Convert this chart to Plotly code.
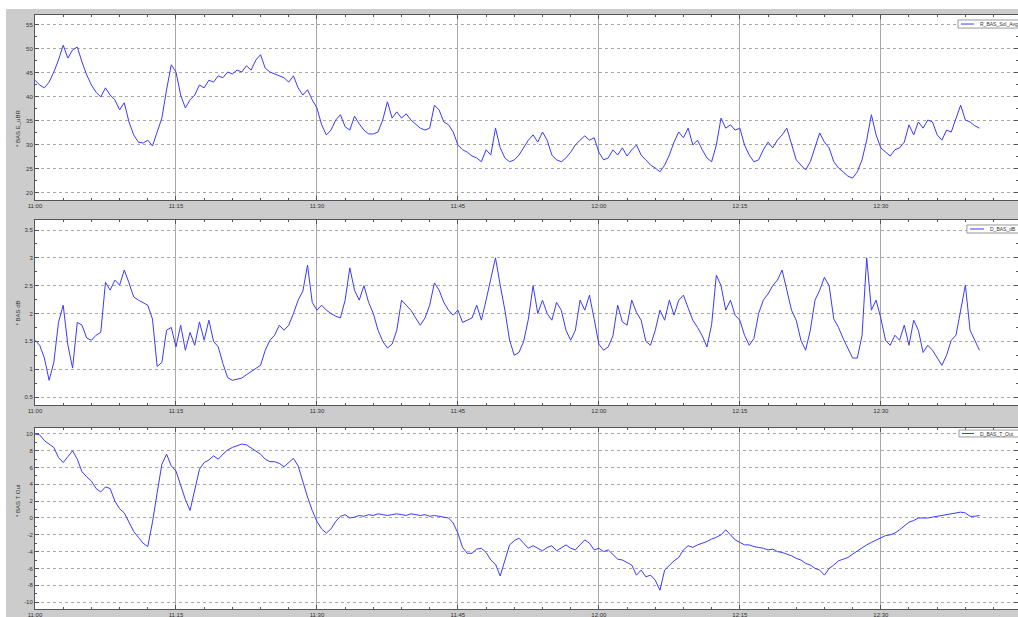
import pandas as pd
import plotly.graph_objects as go
from plotly.subplots import make_subplots

# Sampling: one reading every 30 s, starting at 11:00
START = "2021-05-12 11:00:00"
N_SAMPLES = 202

sol_avg = [
    43.5, 42.5, 41.9, 43.1, 45.2, 47.7, 50.8, 48.1, 49.8, 50.4,
    47.3, 44.6, 42.5, 41.0, 40.0, 41.9, 40.4, 39.4, 37.3, 38.8,
    34.8, 32.1, 30.6, 30.4, 31.0, 29.8, 32.7, 35.6, 41.5, 46.7,
    45.2, 40.4, 37.7, 39.4, 40.4, 42.5, 41.9, 43.5, 43.1, 44.4,
    44.0, 45.2, 44.8, 45.6, 45.2, 46.5, 45.6, 47.7, 48.8, 46.0,
    45.2, 44.8, 44.4, 44.0, 43.1, 44.4, 41.9, 40.4, 41.5, 39.4,
    37.7, 34.2, 32.1, 33.1, 35.2, 36.3, 33.8, 33.1, 36.0, 34.4,
    33.1, 32.3, 32.3, 32.7, 35.2, 39.0, 35.6, 36.9, 35.6, 36.5,
    35.2, 34.4, 33.5, 33.1, 33.5, 38.3, 37.3, 34.8, 34.2, 32.7,
    30.0, 29.0, 28.5, 27.7, 27.3, 26.5, 29.0, 27.9, 33.5, 29.4,
    27.3, 26.5, 26.9, 27.9, 29.4, 31.0, 32.1, 30.6, 32.7, 31.0,
    27.9, 26.9, 26.5, 27.3, 28.5, 30.0, 31.0, 31.9, 31.0, 31.5,
    28.5, 26.9, 27.3, 29.0, 27.9, 29.4, 27.7, 29.0, 30.0, 27.9,
    26.9, 25.8, 25.2, 24.4, 25.8, 27.9, 30.6, 32.7, 31.5, 33.5,
    30.0, 31.0, 29.0, 27.3, 26.5, 30.0, 35.6, 33.5, 34.2, 33.1,
    33.5, 30.0, 27.9, 26.5, 26.9, 29.0, 30.6, 29.4, 31.0, 32.1,
    33.5, 30.0, 26.9, 25.8, 24.8, 26.5, 29.4, 32.5, 30.6, 29.4,
    26.5, 25.2, 24.4, 23.5, 23.1, 24.4, 26.9, 31.0, 36.3, 32.1,
    29.4, 28.5, 27.7, 29.0, 29.4, 30.6, 34.2, 32.1, 34.8, 33.5,
    35.2, 34.8, 32.1, 31.0, 33.1, 32.7, 35.6, 38.3, 35.2, 34.8,
    34.0, 33.5,
]

d_db = [
    1.52, 1.43, 1.20, 0.80, 1.12, 1.84, 2.15, 1.43, 1.02, 1.84,
    1.79, 1.56, 1.52, 1.61, 1.66, 2.56, 2.42, 2.60, 2.51, 2.78,
    2.55, 2.30, 2.24, 2.20, 2.15, 1.90, 1.05, 1.12, 1.70, 1.75,
    1.40, 1.79, 1.34, 1.66, 1.43, 1.85, 1.52, 1.88, 1.50, 1.40,
    1.10, 0.85, 0.80, 0.82, 0.84, 0.90, 0.96, 1.02, 1.07, 1.34,
    1.52, 1.61, 1.79, 1.70, 1.79, 2.00, 2.24, 2.40, 2.87, 2.20,
    2.06, 2.15, 2.06, 2.00, 1.95, 1.92, 2.24, 2.82, 2.42, 2.24,
    2.50, 2.20, 2.00, 1.70, 1.50, 1.38, 1.45, 1.70, 2.24, 2.15,
    2.06, 1.92, 1.79, 1.92, 2.15, 2.55, 2.42, 2.20, 2.06, 1.97,
    2.06, 1.84, 1.88, 1.92, 2.15, 1.88, 2.24, 2.60, 3.00, 2.51,
    2.06, 1.52, 1.25, 1.30, 1.50, 1.90, 2.50, 2.00, 2.24, 2.00,
    1.88, 2.20, 2.06, 1.70, 1.52, 1.70, 2.24, 2.06, 2.33, 1.90,
    1.45, 1.34, 1.40, 1.60, 2.15, 1.85, 1.79, 2.24, 2.02, 1.88,
    1.50, 1.43, 1.70, 2.06, 1.88, 2.24, 1.97, 2.24, 2.33, 2.10,
    1.88, 1.75, 1.60, 1.40, 1.80, 2.69, 2.50, 2.06, 2.24, 1.97,
    1.88, 1.61, 1.43, 1.55, 2.00, 2.24, 2.35, 2.50, 2.60, 2.78,
    2.40, 2.06, 1.88, 1.52, 1.34, 1.70, 2.24, 2.42, 2.65, 2.50,
    1.90, 1.75, 1.55, 1.38, 1.20, 1.20, 1.60, 3.00, 2.06, 2.24,
    1.92, 1.52, 1.43, 1.61, 1.52, 1.79, 1.43, 1.88, 1.70, 1.30,
    1.43, 1.34, 1.20, 1.07, 1.25, 1.52, 1.61, 2.06, 2.51, 1.70,
    1.52, 1.34,
]

t_out = [
    10.0, 9.9, 9.2, 8.8, 8.4, 7.2, 6.6, 7.3, 8.0, 7.0,
    5.5, 4.9, 4.4, 3.5, 3.1, 3.7, 3.5, 2.0, 1.1, 0.6,
    -0.6, -1.6, -2.3, -3.0, -3.4, -0.5, 3.0, 6.4, 7.6, 6.2,
    5.6, 4.0, 2.2, 0.9, 3.5, 5.8, 6.6, 6.9, 7.4, 7.0,
    7.6, 8.1, 8.4, 8.6, 8.8, 8.7, 8.3, 7.9, 7.6, 7.0,
    6.7, 6.7, 6.5, 6.1, 6.6, 7.1, 6.2, 4.2, 2.5, 0.9,
    -0.4, -1.3, -1.8, -1.3, -0.4, 0.2, 0.4, 0.0, 0.1, 0.3,
    0.2, 0.4, 0.3, 0.5, 0.4, 0.3, 0.4, 0.5, 0.4, 0.3,
    0.5, 0.4, 0.3, 0.4, 0.2, 0.3, 0.2, 0.1, 0.0, -0.6,
    -1.8, -3.5, -4.2, -4.2, -3.7, -3.6, -4.1, -5.0, -5.5, -6.9,
    -5.0, -3.2, -2.7, -2.4, -3.0, -3.6, -3.3, -3.6, -3.9, -3.5,
    -3.3, -3.9, -3.6, -3.2, -3.6, -3.8, -3.2, -2.6, -3.0, -3.8,
    -3.6, -4.0, -3.8, -4.4, -4.9, -5.0, -5.3, -5.6, -6.8, -6.2,
    -7.0, -6.8, -7.4, -8.6, -6.2, -5.6, -5.1, -4.7, -3.8, -3.3,
    -3.5, -3.2, -3.0, -2.8, -2.5, -2.3, -2.0, -1.4, -2.0, -2.6,
    -2.9, -3.2, -3.2, -3.4, -3.5, -3.6, -3.8, -3.7, -4.0, -4.1,
    -4.3, -4.5, -4.8, -5.0, -5.4, -5.6, -6.0, -6.2, -6.8, -6.0,
    -5.6, -5.1, -4.9, -4.7, -4.3, -3.9, -3.6, -3.2, -2.9, -2.6,
    -2.3, -2.1, -2.0, -1.8, -1.4, -1.0, -0.5, -0.3, 0.0, 0.0,
    0.0, 0.1, 0.2, 0.3, 0.4, 0.5, 0.6, 0.7, 0.6, 0.2,
    0.2, 0.3,
]

series_names = ["R_BAS_Sol_Avg", "D_BAS_dB", "D_BAS_T_Out"]
axis_titles = ["* BAS E_uBR", "* BAS dB", "* BAS T Out"]
y_ticks = [
    [20, 25, 30, 35, 40, 45, 50, 55],
    [0.5, 1, 1.5, 2, 2.5, 3, 3.5],
    [-10, -8, -6, -4, -2, 0, 2, 4, 6, 8, 10],
]
y_ranges = [[18.54, 57.08], [0.356, 3.68], [-10.83, 10.71]]
y_minor = [2.5, 0.25, 1]

times = pd.date_range(START, periods=N_SAMPLES, freq="30s")
x_end = pd.Timestamp(START) + pd.Timedelta(minutes=104.6)

LINE_BLUE = "#3a3aff"
GRID = "#a8a8a8"
AXIS = "#555555"
FIG_GRAY = "#cccccc"
TEXT = "#333333"
FONT = "Liberation Sans, Arial"

fig = make_subplots(rows=3, cols=1, shared_xaxes=False, vertical_spacing=0.03)

values = [sol_avg, d_db, t_out]
for i, (vals, name) in enumerate(zip(values, series_names)):
    fig.add_trace(
        go.Scatter(x=times, y=vals, mode="lines", name=name,
                   line=dict(color=LINE_BLUE, width=1), showlegend=False),
        row=i + 1, col=1,
    )

# Panel placement (paper fractions)
domains = [[0.6886, 1.0], [0.3434, 0.6549], [0.0, 0.3047]]
tick_font = dict(family=FONT, size=6, color=TEXT)

for i in range(3):
    xa = "xaxis" if i == 0 else f"xaxis{i + 1}"
    ya = "yaxis" if i == 0 else f"yaxis{i + 1}"
    fig.layout[xa].update(
        domain=[0, 1],
        range=[pd.Timestamp(START), x_end],
        tickformat="%H:%M", dtick=15 * 60 * 1000,
        tick0=pd.Timestamp(START),
        ticks="inside", ticklen=4, tickcolor=AXIS,
        showline=True, linecolor=AXIS, linewidth=1, mirror="ticks",
        showgrid=True, gridcolor=GRID, gridwidth=1,
        minor=dict(ticks="inside", ticklen=2, dtick=3 * 60 * 1000,
                   tickcolor=AXIS, showgrid=False),
        tickfont=tick_font, zeroline=False,
    )
    fig.layout[ya].update(
        domain=domains[i],
        range=y_ranges[i],
        tickmode="array", tickvals=y_ticks[i],
        ticktext=[str(v) for v in y_ticks[i]],
        ticks="inside", ticklen=4, tickcolor=AXIS,
        showline=True, linecolor=AXIS, linewidth=1, mirror="ticks",
        showgrid=True, gridcolor=GRID, gridwidth=1, griddash="dot",
        minor=dict(ticks="inside", ticklen=2, dtick=y_minor[i],
                   tick0=y_ticks[i][0], tickcolor=AXIS, showgrid=False),
        tickfont=tick_font, zeroline=False,
    )

# Compact legend boxes in the top-right corner of each panel:
# (box left, box bottom, box top, sample start, sample end, text start)
legend_boxes = [
    (0.939, 0.978, 0.9916, 0.942, 0.9552, 0.9593),
    (0.948, 0.633, 0.6465, 0.9512, 0.9654, 0.9695),
    (0.940, 0.2896, 0.3013, 0.943, 0.9552, 0.9593),
]
for name, (bx, by0, by1, lx0, lx1, tx) in zip(series_names, legend_boxes):
    ym = (by0 + by1) / 2
    fig.add_shape(type="rect", xref="paper", yref="paper",
                  x0=bx, x1=1.05, y0=by0, y1=by1,
                  fillcolor="white", line=dict(color="#999999", width=1),
                  layer="above")
    fig.add_shape(type="line", xref="paper", yref="paper",
                  x0=lx0, x1=lx1, y0=ym, y1=ym,
                  line=dict(color=LINE_BLUE, width=1), layer="above")
    fig.add_annotation(text=name, xref="paper", yref="paper",
                       x=tx, y=ym, xanchor="left", yanchor="middle",
                       showarrow=False, font=dict(family=FONT, size=5, color=TEXT))

# Y-axis titles
for i, title in enumerate(axis_titles):
    d = domains[i]
    fig.add_annotation(
        text=title, xref="paper", yref="paper",
        x=-0.0224, y=(d[0] + d[1]) / 2, textangle=-90,
        showarrow=False, font=dict(family=FONT, size=6, color=TEXT),
    )

# Thin white edge along the left and top of the gray figure
fig.add_shape(type="rect", xref="paper", yref="paper",
              x0=-0.04, x1=-0.0295, y0=-0.05, y1=1.05,
              fillcolor="white", line=dict(width=0), layer="below")
fig.add_shape(type="rect", xref="paper", yref="paper",
              x0=-0.04, x1=1.05, y0=1.0101, y1=1.05,
              fillcolor="white", line=dict(width=0), layer="below")

fig.update_layout(
    width=1018, height=617,
    margin=dict(l=35, r=0, t=15, b=8, autoexpand=False),
    paper_bgcolor=FIG_GRAY, plot_bgcolor="white",
    showlegend=False,
)

fig.write_html("out.html")
